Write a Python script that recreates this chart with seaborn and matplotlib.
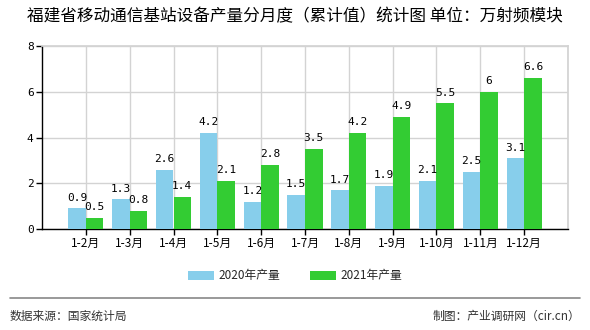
import matplotlib
matplotlib.use("Agg")
import matplotlib.pyplot as plt
import seaborn as sns
import pandas as pd
from matplotlib.patches import Patch
from matplotlib.lines import Line2D

categories = ["1-2月", "1-3月", "1-4月", "1-5月", "1-6月", "1-7月", "1-8月", "1-9月", "1-10月", "1-11月", "1-12月"]
values_2020 = [0.9, 1.3, 2.6, 4.2, 1.2, 1.5, 1.7, 1.9, 2.1, 2.5, 3.1]
values_2021 = [0.5, 0.8, 1.4, 2.1, 2.8, 3.5, 4.2, 4.9, 5.5, 6, 6.6]
series_names = ["2020年产量", "2021年产量"]
colors = ["#87CEEB", "#33CC33"]

title = "福建省移动通信基站设备产量分月度（累计值）统计图 单位：万射频模块"
source = "数据来源：国家统计局"
maker = "制图：产业调研网（cir.cn）"

df = pd.DataFrame({
    "cat": categories * 2,
    "val": values_2020 + values_2021,
    "series": [series_names[0]] * len(categories) + [series_names[1]] * len(categories),
})

sns.set_theme(style="white")
plt.rcParams['font.family'] = ['Noto Sans CJK SC', 'DejaVu Sans']

fig = plt.figure(figsize=(5.9, 3.3), dpi=100)
ax = fig.add_axes([42/590, 1-229/330, (568-42)/590, (229-46)/330])

sns.barplot(data=df, x="cat", y="val", hue="series", palette=colors, width=0.8,
            saturation=1, ax=ax, legend=False, zorder=3, linewidth=0, edgecolor="none")

ax.set_xlim(-1, 11)
ax.set_ylim(0, 8)
ax.set_yticks([0, 2, 4, 6, 8])
ax.set_yticklabels(["0", "2", "4", "6", "8"], family="DejaVu Sans Mono", fontsize=8)
ax.set_xticks(range(len(categories)))
ax.set_xticklabels(categories, fontsize=8.5)
ax.set_xlabel("")
ax.set_ylabel("")

ax.grid(True, axis="y", color="#D3D3D3", linewidth=1, zorder=0)
for i in list(range(len(categories))) + [11]:
    ax.axvline(i, color="#D3D3D3", linewidth=1, zorder=0)

for s in ["top", "right"]:
    ax.spines[s].set_color("#D3D3D3")
for s in ["left", "bottom"]:
    ax.spines[s].set_color("black")
    ax.spines[s].set_linewidth(1)
ax.tick_params(axis="both", which="both", direction="out", length=4, width=1, color="black", labelcolor="black", pad=2)
ax.tick_params(axis="x", bottom=True)
ax.tick_params(axis="y", left=True)

def fmt(v):
    return str(int(v)) if float(v).is_integer() else str(v)

for container in ax.containers:
    ax.bar_label(container, labels=[fmt(v) for v in container.datavalues], padding=4,
                 fontsize=8, family="DejaVu Sans Mono", color="black")

handles = [Patch(facecolor=c, edgecolor="none") for c in colors]
fig.legend(handles, series_names, loc="center", bbox_to_anchor=(0.5, 1-276/330), ncol=2,
           frameon=False, fontsize=8.5, handlelength=2.2, handleheight=0.8, columnspacing=2.5, handletextpad=0.4)

fig.text(27/590, 1-17/330, title, fontsize=12, ha="left", va="center", color="black")
fig.add_artist(Line2D([10/590, 580/590], [1-298/330, 1-298/330], color="#888888", linewidth=1.2))
fig.text(10/590, 1-316/330, source, fontsize=8.5, ha="left", va="center", color="#333333")
fig.text(580/590, 1-316/330, maker, fontsize=8.5, ha="right", va="center", color="#333333")

fig.savefig("out.png", dpi=100)
